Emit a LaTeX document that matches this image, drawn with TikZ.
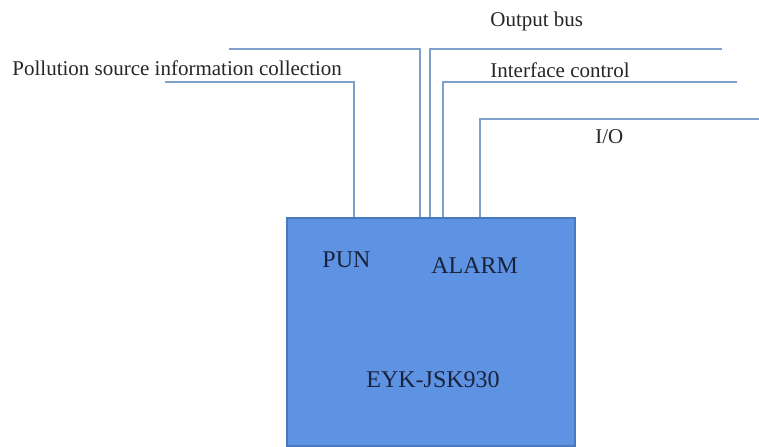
\documentclass[tikz,border=0pt]{standalone}
\usepackage{fontspec}
\setmainfont{Liberation Serif}
\usepackage{tikz}
\usetikzlibrary{positioning}
\definecolor{wirecol}{RGB}{127,160,204}
\definecolor{boxfill}{RGB}{93,147,226}
\definecolor{boxedge}{RGB}{72,120,190}
\definecolor{boxtext}{RGB}{26,34,60}
\tikzset{x=0.5pt, y=-0.5pt, % one unit is one pixel of the picture, y going down
every wire/.style=
    { % Sets the properties for each wire
        draw=wirecol,
        line width=0.8pt
    },
    device/.style={ % The EYK-JSK930 box
        draw=boxedge,
        fill=boxfill,
        line width=0.8pt,
        minimum width=144pt,
        minimum height=114pt,
        anchor=north west,
        inner sep=0pt
    },
    toplabel/.style={anchor=base west, inner sep=0pt, text=black!85,
        font=\fontsize{10.5}{12}\selectfont},
    boxlabel/.style={anchor=base west, inner sep=0pt, text=boxtext,
        font=\fontsize{12}{14}\selectfont}
}

\begin{document}
\begin{tikzpicture}
    \useasboundingbox (0,0) rectangle (759,446);
    \node[device] (dev) at (286,217) {};
    \coordinate (poll) at (165,82);
    \coordinate (busl) at (229,49);
    \coordinate (busr) at (722,49);
    \coordinate (ifc) at (737,82);
    \coordinate (io) at (759,119);
    \draw[every wire] (poll) -| ([xshift=34pt]dev.north west);
    \draw[every wire] (busl) -| ([xshift=67pt]dev.north west);
    \draw[every wire] (busr) -| ([xshift=72pt]dev.north west);
    \draw[every wire] (ifc) -| ([xshift=78.5pt]dev.north west);
    \draw[every wire] (io) -| ([xshift=97pt]dev.north west);
    \node[toplabel] (tpoll) at (12,75) {Pollution source information collection};
    \node[toplabel] (tbus) at (490,26) {Output bus};
    \node[toplabel] (tifc) at (490,77) {Interface control};
    \node[toplabel] (tio) at (595,143) {I/O};
    \node[boxlabel] (pun) at (322,267) {PUN};
    \node[boxlabel] (alarm) at (431,273) {ALARM};
    \node[boxlabel] (name) at (366,387) {EYK-JSK930};
\end{tikzpicture}
\end{document}
